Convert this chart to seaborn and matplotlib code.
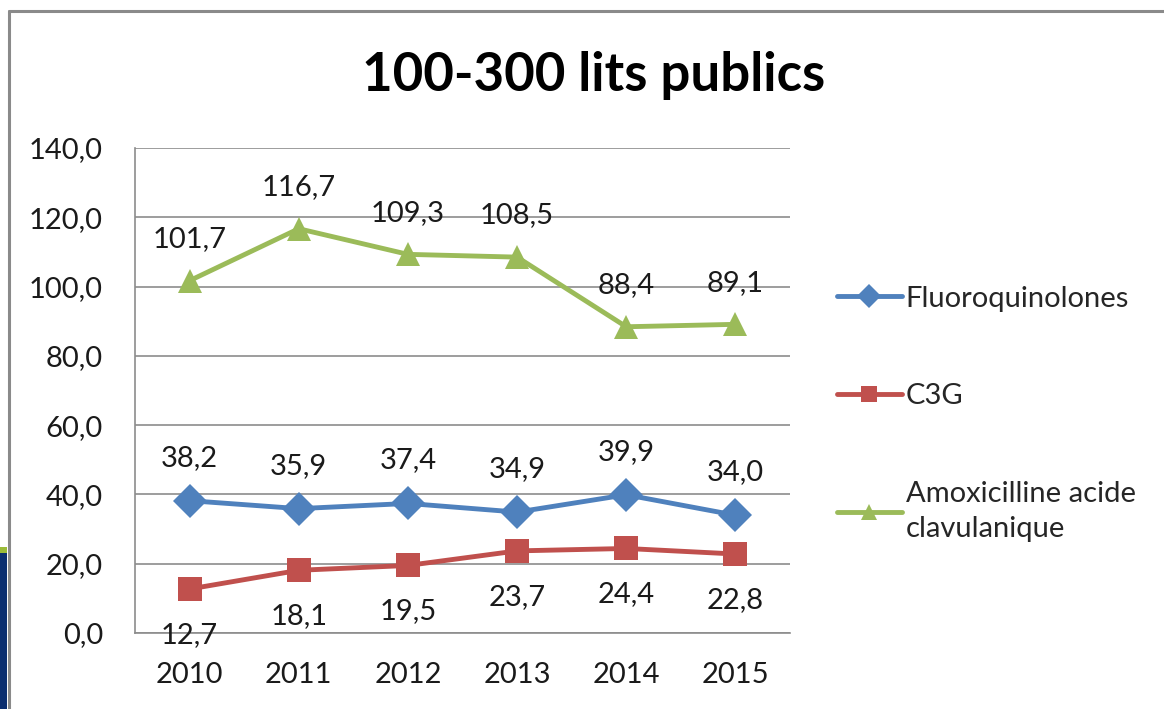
import matplotlib
matplotlib.use("Agg")
import matplotlib.pyplot as plt
import matplotlib.ticker as mtick
from matplotlib.lines import Line2D
from matplotlib.patches import Rectangle
import seaborn as sns
import pandas as pd

# données
annees = [2010, 2011, 2012, 2013, 2014, 2015]
fluoroquinolones = [38.2, 35.9, 37.4, 34.9, 39.9, 34.0]
c3g = [12.7, 18.1, 19.5, 23.7, 24.4, 22.8]
amoxicilline = [101.7, 116.7, 109.3, 108.5, 88.4, 89.1]
noms_series = ["Fluoroquinolones", "C3G", "Amoxicilline acide\nclavulanique"]
graduations_y = [0, 20, 40, 60, 80, 100, 120, 140]
titre = "100-300 lits publics"

couleurs = {noms_series[0]: "#4F81BD", noms_series[1]: "#C0504D", noms_series[2]: "#9BBB59"}
marqueurs = {noms_series[0]: "D", noms_series[1]: "s", noms_series[2]: "^"}
decalages = {noms_series[0]: 31, noms_series[1]: -33, noms_series[2]: 30}

df = pd.DataFrame({
    "annee": annees * 3,
    "valeur": fluoroquinolones + c3g + amoxicilline,
    "serie": [noms_series[0]] * 6 + [noms_series[1]] * 6 + [noms_series[2]] * 6,
})

sns.set_style("white")
plt.rcParams["font.family"] = ["Lato", "DejaVu Sans"]
taille = 21

W, H = 1164, 709
fig = plt.figure(figsize=(W / 100, H / 100), dpi=100)
ax = fig.add_axes([135 / W, 1 - 633 / H, 655 / W, 485 / H])

sns.lineplot(data=df, x="annee", y="valeur", hue="serie", style="serie",
             palette=couleurs, markers=marqueurs, dashes=False, linewidth=3.5,
             markersize=17, markeredgewidth=0, ax=ax)

# étiquettes de données
for serie in noms_series:
    sous = df[df["serie"] == serie]
    for x, y in zip(sous["annee"], sous["valeur"]):
        ax.annotate(f"{y:.1f}".replace(".", ","), (x, y), xytext=(0, decalages[serie]),
                    textcoords="offset points", ha="center", va="center",
                    fontsize=taille, color="#1a1a1a")

ax.set_xlim(2009.5, 2015.5)
ax.set_ylim(0, 140)
ax.set_xticks(annees)
ax.set_yticks(graduations_y)
ax.yaxis.set_major_formatter(mtick.FuncFormatter(lambda v, p: f"{v:.1f}".replace(".", ",")))
ax.grid(axis="y", color="#8c8c8c", linewidth=1.2)
ax.grid(axis="x", visible=False)
ax.set_axisbelow(True)
for s in ["top", "right"]:
    ax.spines[s].set_visible(False)
for s in ["left", "bottom"]:
    ax.spines[s].set_color("#8c8c8c")
    ax.spines[s].set_linewidth(1.2)
ax.tick_params(axis="both", length=0, labelsize=taille, labelcolor="#1a1a1a")
ax.tick_params(axis="y", pad=23)
ax.tick_params(axis="x", pad=21)
ax.set_xlabel("")
ax.set_ylabel("")

handles, labels = ax.get_legend_handles_labels()
leg = ax.legend(handles, labels, loc="upper left", bbox_to_anchor=(822 / W, 1 - 271 / H),
                bbox_transform=fig.transFigure, frameon=False, fontsize=taille,
                handlelength=2.25, handletextpad=0.12, labelspacing=2.45, borderpad=0,
                markerscale=0.7)
for t in leg.get_texts():
    t.set_linespacing(1.45)

fig.text(594 / W, 1 - 75 / H, titre, ha="center", va="center", fontsize=38,
         fontweight="bold", color="black")

# cadre et décor de la diapositive
fig.add_artist(Rectangle((0, 0), 7 / W, 1 - 553 / H, transform=fig.transFigure,
                         color="#0B2E6F", lw=0))
fig.add_artist(Rectangle((0, 1 - 553 / H), 7 / W, 6 / H, transform=fig.transFigure,
                         color="#9BBB39", lw=0))
fig.add_artist(Line2D([9 / W, 9 / W], [0, 1 - 11 / H], transform=fig.transFigure,
                      color="#8a8a8a", lw=2.2))
fig.add_artist(Line2D([9 / W, 1], [1 - 11 / H, 1 - 11 / H], transform=fig.transFigure,
                      color="#8a8a8a", lw=2.2))

fig.savefig("out.png", dpi=100)
